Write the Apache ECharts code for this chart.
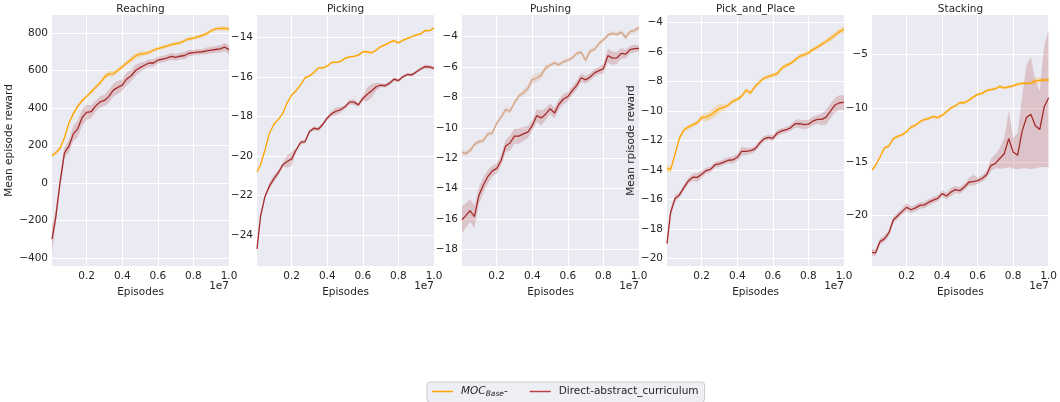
<!DOCTYPE html>
<html>
<head>
<meta charset="utf-8">
<script src="https://cdn.jsdelivr.net/npm/echarts@6.0.0/dist/echarts.min.js"></script>
<style>
  html, body { margin: 0; padding: 0; background: #fff; }
  #main { width: 1060px; height: 402px; }
</style>
</head>
<body>
<div id="main"></div>
<script>
// x positions, in units of 1e7 episodes
var episodes = [0.005,0.025,0.05,0.075,0.1,0.125,0.15,0.175,0.2,0.225,0.25,0.275,0.3,0.325,0.35,0.375,0.4,0.425,0.45,0.475,0.5,0.525,0.55,0.575,0.6,0.625,0.65,0.675,0.7,0.725,0.75,0.775,0.8,0.825,0.85,0.875,0.9,0.925,0.95,0.975,1.0];
var xTicks = [0.2, 0.4, 0.6, 0.8, 1.0];

// Reaching
var reachMoc = [145,160,185,240,320,370,410,440,462,485,510,533,565,582,583,600,620,640,658,678,688,690,696,708,717,723,730,738,743,747,760,768,773,779,787,797,812,822,825,824,822];
var reachMocSd = [10,10,10,10,10,10,10,10,10,12,12,12,15,15,15,12,12,12,15,15,15,12,10,10,10,10,10,10,10,10,10,10,10,10,10,10,10,10,12,12,12];
var reachDirect = [-300,-190,0,160,196,262,290,350,377,380,410,432,440,462,495,510,522,555,572,600,615,628,640,640,655,660,666,675,670,676,680,692,695,698,700,705,709,712,715,725,711];
var reachDirectSd = [70,40,30,30,35,40,45,45,40,35,30,30,30,35,35,35,30,35,30,30,25,20,20,20,18,18,18,18,18,18,20,18,15,15,15,18,18,18,20,22,25];
var reachTicks = [-400,-200,0,200,400,600,800];

// Picking
var pickMoc = [-20.8,-20.45,-19.7,-18.85,-18.4,-18.15,-17.85,-17.3,-16.92,-16.7,-16.4,-16.05,-15.95,-15.78,-15.55,-15.55,-15.45,-15.27,-15.27,-15.22,-15.06,-14.99,-14.96,-14.9,-14.73,-14.73,-14.78,-14.65,-14.47,-14.38,-14.26,-14.17,-14.28,-14.15,-14.05,-13.97,-13.88,-13.82,-13.66,-13.66,-13.53];
var pickMocSd = [0.08,0.06,0.06,0.06,0.06,0.06,0.06,0.06,0.06,0.06,0.06,0.06,0.06,0.06,0.06,0.06,0.06,0.06,0.06,0.06,0.06,0.06,0.06,0.06,0.06,0.06,0.06,0.06,0.06,0.06,0.06,0.06,0.06,0.06,0.06,0.06,0.06,0.06,0.06,0.06,0.06];
var pickDirect = [-24.7,-23.05,-22.05,-21.52,-21.15,-20.85,-20.45,-20.28,-20.15,-19.7,-19.32,-19.28,-18.77,-18.6,-18.65,-18.4,-18.08,-17.86,-17.74,-17.66,-17.51,-17.28,-17.28,-17.42,-17.09,-16.88,-16.7,-16.5,-16.42,-16.45,-16.32,-16.12,-16.19,-16.0,-15.88,-15.9,-15.75,-15.6,-15.48,-15.5,-15.57];
var pickDirectSd = [0.1,0.1,0.1,0.15,0.2,0.15,0.1,0.3,0.35,0.1,0.1,0.1,0.1,0.1,0.1,0.1,0.1,0.15,0.2,0.15,0.1,0.12,0.15,0.1,0.15,0.35,0.35,0.2,0.1,0.1,0.1,0.1,0.1,0.08,0.08,0.08,0.08,0.08,0.1,0.1,0.1];
var pickTicks = [-24,-22,-20,-18,-16,-14];

// Pushing
var pushMoc = [-11.6,-11.7,-11.5,-11.1,-10.91,-10.85,-10.4,-10.35,-9.7,-9.3,-8.8,-8.9,-8.35,-7.9,-7.69,-7.4,-6.82,-6.72,-6.55,-6.05,-5.87,-5.72,-5.85,-5.65,-5.55,-5.4,-5.1,-5.02,-5.55,-4.95,-4.83,-4.45,-4.2,-3.9,-3.78,-3.85,-3.7,-4.05,-3.67,-3.6,-3.39];
var pushMocSd = [0.2,0.15,0.15,0.15,0.15,0.15,0.15,0.15,0.15,0.15,0.15,0.15,0.15,0.15,0.2,0.25,0.3,0.3,0.25,0.2,0.15,0.15,0.15,0.15,0.15,0.15,0.15,0.15,0.2,0.15,0.15,0.15,0.15,0.15,0.15,0.15,0.15,0.2,0.15,0.15,0.15];
var pushDirect = [-16.05,-15.8,-15.46,-15.85,-14.45,-13.77,-13.22,-12.85,-12.67,-12.15,-11.2,-11.0,-10.55,-10.55,-10.4,-10.28,-9.85,-9.2,-9.35,-9.1,-8.75,-9.03,-8.45,-8.1,-7.95,-7.55,-7.2,-6.7,-6.84,-6.65,-6.38,-6.23,-6.1,-5.25,-5.41,-5.4,-5.1,-5.15,-4.85,-4.78,-4.77];
var pushDirectSd = [0.9,0.8,0.75,0.75,0.55,0.5,0.45,0.35,0.35,0.35,0.4,0.5,0.5,0.5,0.45,0.4,0.35,0.4,0.5,0.4,0.35,0.35,0.35,0.35,0.3,0.3,0.3,0.3,0.25,0.25,0.25,0.25,0.3,0.45,0.45,0.4,0.35,0.3,0.25,0.25,0.2];
var pushTicks = [-18,-16,-14,-12,-10,-8,-6,-4];

// Pick_and_Place
var placeMoc = [-13.9,-14.0,-12.95,-11.85,-11.3,-11.1,-10.95,-10.8,-10.45,-10.43,-10.28,-10.05,-9.85,-9.76,-9.6,-9.35,-9.22,-9.0,-8.6,-8.78,-8.35,-8.05,-7.78,-7.68,-7.57,-7.48,-7.1,-6.92,-6.78,-6.55,-6.3,-6.2,-6.06,-5.85,-5.68,-5.48,-5.3,-5.08,-4.85,-4.63,-4.47];
var placeMocSd = [0.25,0.2,0.2,0.2,0.15,0.15,0.15,0.15,0.2,0.25,0.3,0.35,0.3,0.2,0.15,0.15,0.15,0.15,0.15,0.15,0.15,0.15,0.15,0.15,0.15,0.15,0.15,0.15,0.15,0.15,0.15,0.15,0.15,0.15,0.15,0.15,0.15,0.2,0.2,0.2,0.2];
var placeDirect = [-19.0,-16.9,-15.95,-15.7,-15.2,-14.75,-14.5,-14.51,-14.3,-14.05,-13.97,-13.65,-13.6,-13.47,-13.35,-13.33,-13.15,-12.75,-12.75,-12.7,-12.58,-12.2,-11.9,-11.8,-11.86,-11.5,-11.36,-11.28,-11.15,-10.88,-10.87,-10.93,-10.9,-10.7,-10.58,-10.58,-10.42,-10.0,-9.6,-9.45,-9.42];
var placeDirectSd = [0.3,0.3,0.25,0.2,0.2,0.2,0.25,0.3,0.25,0.2,0.2,0.2,0.2,0.2,0.2,0.25,0.25,0.3,0.25,0.2,0.2,0.2,0.2,0.2,0.2,0.2,0.2,0.2,0.2,0.25,0.3,0.3,0.3,0.3,0.3,0.4,0.5,0.5,0.5,0.5,0.5];
var placeTicks = [-20,-18,-16,-14,-12,-10,-8,-6,-4];

// Stacking (the direct curve has an uneven band, so its bounds are given directly)
var stackMoc = [-15.75,-15.35,-14.55,-13.7,-13.54,-12.85,-12.65,-12.5,-12.2,-11.78,-11.62,-11.28,-11.08,-10.98,-10.8,-10.9,-10.7,-10.35,-10.0,-9.8,-9.52,-9.52,-9.3,-9.0,-8.75,-8.65,-8.4,-8.3,-8.22,-8.0,-8.15,-8.05,-7.95,-7.8,-7.73,-7.72,-7.7,-7.5,-7.44,-7.41,-7.41];
var stackMocSd = [0.2,0.15,0.15,0.15,0.15,0.15,0.15,0.15,0.15,0.15,0.15,0.15,0.15,0.15,0.15,0.15,0.15,0.15,0.15,0.15,0.15,0.15,0.15,0.15,0.15,0.15,0.15,0.15,0.15,0.15,0.15,0.15,0.15,0.15,0.15,0.15,0.15,0.35,0.25,0.15,0.15];
var stackDirect = [-23.4,-23.45,-22.41,-22.15,-21.6,-20.4,-20.0,-19.6,-19.23,-19.45,-19.28,-19.05,-19.0,-18.75,-18.55,-18.4,-17.95,-18.18,-17.8,-17.58,-17.68,-17.35,-16.9,-16.85,-16.75,-16.55,-16.2,-15.35,-15.15,-14.7,-14.25,-12.85,-14.1,-14.4,-12.2,-10.9,-10.6,-11.65,-12.0,-9.9,-9.05];
var stackDirectLo = [-23.7,-23.75,-22.7,-22.45,-21.9,-20.7,-20.3,-19.9,-19.6,-19.75,-19.58,-19.35,-19.3,-19.05,-18.85,-18.7,-18.25,-18.5,-18.2,-17.9,-18.0,-17.65,-17.25,-17.2,-17.05,-16.85,-16.55,-15.9,-15.6,-15.65,-15.6,-15.5,-15.65,-15.7,-15.6,-15.6,-15.7,-15.6,-15.5,-15.5,-15.5];
var stackDirectHi = [-23.1,-23.15,-22.1,-21.85,-21.3,-20.1,-19.7,-19.3,-18.85,-19.15,-18.98,-18.75,-18.7,-18.45,-18.25,-18.1,-17.65,-17.85,-17.4,-17.25,-17.35,-17.05,-16.5,-16.2,-16.45,-16.25,-15.85,-14.7,-14.3,-13.7,-12.8,-10.3,-12.8,-12.3,-9.0,-6.0,-5.3,-7.5,-8.4,-4.2,-2.8];
var stackTicks = [-20,-15,-10,-5];

var FONT = 'DejaVu Sans';
var TEXT = '#262626';
var FS = 10.5;
var ORANGE = '#ffa500', TAN = '#d6a482', BROWN = '#a52a2a';

function lower(m, sd) { return m.map(function (v, i) { return v - sd[i]; }); }
function upper(m, sd) { return m.map(function (v, i) { return v + sd[i]; }); }

var panels = [
  { title: 'Reaching', yMin: -443, yMax: 896, ticks: reachTicks, mocColor: ORANGE,
    moc: reachMoc, mocLo: lower(reachMoc, reachMocSd), mocHi: upper(reachMoc, reachMocSd),
    dir: reachDirect, dirLo: lower(reachDirect, reachDirectSd), dirHi: upper(reachDirect, reachDirectSd),
    yName: 'Mean episode reward', nameGap: 31 },
  { title: 'Picking', yMin: -25.57, yMax: -12.87, ticks: pickTicks, mocColor: ORANGE,
    moc: pickMoc, mocLo: lower(pickMoc, pickMocSd), mocHi: upper(pickMoc, pickMocSd),
    dir: pickDirect, dirLo: lower(pickDirect, pickDirectSd), dirHi: upper(pickDirect, pickDirectSd) },
  { title: 'Pushing', yMin: -19.1, yMax: -2.57, ticks: pushTicks, mocColor: TAN,
    moc: pushMoc, mocLo: lower(pushMoc, pushMocSd), mocHi: upper(pushMoc, pushMocSd),
    dir: pushDirect, dirLo: lower(pushDirect, pushDirectSd), dirHi: upper(pushDirect, pushDirectSd) },
  { title: 'Pick_and_Place', yMin: -20.52, yMax: -3.5, ticks: placeTicks, mocColor: ORANGE,
    moc: placeMoc, mocLo: lower(placeMoc, placeMocSd), mocHi: upper(placeMoc, placeMocSd),
    dir: placeDirect, dirLo: lower(placeDirect, placeDirectSd), dirHi: upper(placeDirect, placeDirectSd),
    yName: 'Mean rpisode reward', nameGap: 24 },
  { title: 'Stacking', yMin: -24.67, yMax: -1.38, ticks: stackTicks, mocColor: ORANGE,
    moc: stackMoc, mocLo: lower(stackMoc, stackMocSd), mocHi: upper(stackMoc, stackMocSd),
    dir: stackDirect, dirLo: stackDirectLo, dirHi: stackDirectHi }
];

function fmtY(v) { return String(v).replace('-', '\u2212'); }
function pairs(vals) { return episodes.map(function (x, i) { return [x, vals[i]]; }); }
function alpha(hex, a) {
  var n = parseInt(hex.slice(1), 16);
  return 'rgba(' + (n >> 16) + ',' + ((n >> 8) & 255) + ',' + (n & 255) + ',' + a + ')';
}

function band(k, lo, hi, color) {
  return {
    type: 'custom', xAxisIndex: k, yAxisIndex: k, silent: true, clip: true, z: 1,
    data: episodes.map(function (x, i) { return [x, lo[i], hi[i]]; }),
    encode: { x: 0, y: [1, 2] },
    renderItem: function (params, api) {
      if (params.dataIndex !== 0) return;
      var pts = [];
      for (var i = 0; i < episodes.length; i++) pts.push(api.coord([episodes[i], hi[i]]));
      for (var j = episodes.length - 1; j >= 0; j--) pts.push(api.coord([episodes[j], lo[j]]));
      return { type: 'polygon', shape: { points: pts }, style: { fill: color, stroke: null } };
    }
  };
}

var grids = [], xAxes = [], yAxes = [], series = [], graphics = [];
panels.forEach(function (p, k) {
  var left = 52 + k * 205;
  grids.push({ left: left, top: 15, width: 177, height: 251, show: true,
    backgroundColor: '#eaeaf2', borderWidth: 0 });
  xAxes.push({
    type: 'value', gridIndex: k, min: 0.005, max: 1.0,
    axisLine: { show: false },
    axisTick: { show: false, customValues: xTicks },
    axisLabel: { customValues: xTicks, margin: 5, fontSize: FS, fontFamily: FONT, color: TEXT,
      formatter: function (v) { return v.toFixed(1); } },
    splitLine: { show: true, lineStyle: { color: '#ffffff', width: 1 } },
    name: 'Episodes', nameLocation: 'middle', nameGap: 14,
    nameTextStyle: { fontSize: FS, fontFamily: FONT, color: TEXT }
  });
  yAxes.push({
    type: 'value', gridIndex: k, min: p.yMin, max: p.yMax,
    axisLine: { show: false },
    axisTick: { show: false, customValues: p.ticks },
    axisLabel: { customValues: p.ticks, margin: 4, fontSize: FS, fontFamily: FONT, color: TEXT,
      formatter: fmtY },
    splitLine: { show: true, lineStyle: { color: '#ffffff', width: 1 } },
    name: p.yName || '', nameLocation: 'middle', nameGap: p.nameGap || 30,
    nameTextStyle: { fontSize: FS, fontFamily: FONT, color: TEXT }
  });
  series.push(band(k, p.mocLo, p.mocHi, alpha(p.mocColor, 0.25)));
  series.push(band(k, p.dirLo, p.dirHi, alpha(BROWN, 0.2)));
  series.push({
    type: 'line', name: 'MOC', xAxisIndex: k, yAxisIndex: k, data: pairs(p.moc),
    symbol: 'none', z: 3, color: p.mocColor, lineStyle: { width: 1.3, color: p.mocColor }
  });
  series.push({
    type: 'line', name: 'Direct-abstract_curriculum', xAxisIndex: k, yAxisIndex: k, data: pairs(p.dir),
    symbol: 'none', z: 4, color: BROWN, lineStyle: { width: 1.3, color: BROWN }
  });
  graphics.push({ type: 'text', x: left + 88.5, y: 9,
    style: { text: p.title, fill: TEXT, fontSize: FS, fontFamily: FONT, align: 'center', verticalAlign: 'middle' } });
  graphics.push({ type: 'text', x: left + 177, y: 286,
    style: { text: '1e7', fill: TEXT, fontSize: FS, fontFamily: FONT, align: 'right', verticalAlign: 'middle' } });
});

var chart = echarts.init(document.getElementById('main'));
chart.setOption({
  animation: false,
  backgroundColor: '#ffffff',
  grid: grids,
  xAxis: xAxes,
  yAxis: yAxes,
  series: series,
  graphic: graphics,
  legend: {
    data: [
      { name: 'MOC', icon: 'rect', itemStyle: { color: ORANGE } },
      { name: 'Direct-abstract_curriculum', icon: 'rect', itemStyle: { color: '#b84040' } }
    ],
    left: 427, top: 382, padding: [4, 6, 4, 5],
    itemWidth: 21, itemHeight: 1.5, itemGap: 22,
    backgroundColor: '#eeeef5', borderColor: '#cccccc', borderWidth: 1, borderRadius: 3,
    formatter: function (name) { return name === 'MOC' ? '{i|MOC}{s|Base}{n|-}' : name; },
    textStyle: {
      fontSize: FS, fontFamily: FONT, color: TEXT, padding: [0, 0, 0, 3],
      rich: {
        i: { fontSize: FS, fontFamily: FONT, fontStyle: 'italic', color: TEXT },
        s: { fontSize: 7.5, fontFamily: FONT, fontStyle: 'italic', color: TEXT, padding: [6, 0, 0, 0] },
        n: { fontSize: FS, fontFamily: FONT, color: TEXT }
      }
    }
  }
});
</script>
</body>
</html>
